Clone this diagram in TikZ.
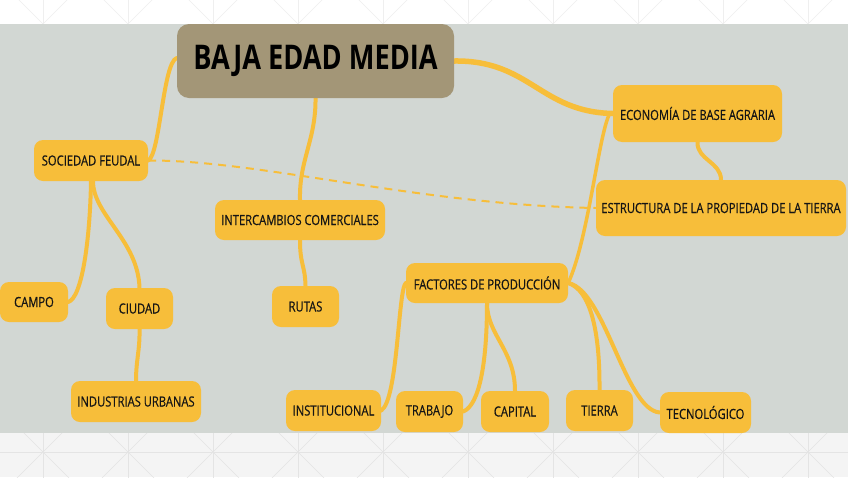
\documentclass[tikz,border=0pt]{standalone}
\usepackage{fontspec}
\setmainfont{Open Sans}[FakeStretch=0.8]
\newfontfamily\nodefont{Open Sans}[FakeStretch=0.8,FakeBold=0.5]
\pgfdeclarelayer{bg}
\pgfsetlayers{bg,main}
\definecolor{panel}{HTML}{D2D7D3}
\definecolor{ylw}{HTML}{F7BE3A}
\definecolor{ttl}{HTML}{A39677}
\definecolor{txt}{HTML}{151515}
\definecolor{strip}{HTML}{F4F4F4}
\definecolor{pat}{HTML}{E4E4E4}
\tikzset{
  box/.style={fill=ylw, rounded corners=9pt, inner sep=0pt, text=txt,
    font=\nodefont\fontsize{14}{14}\selectfont},
  titlebox/.style={fill=ttl, rounded corners=12pt, inner sep=0pt, text=black,
    font=\bfseries\fontsize{34}{34}\selectfont},
  link/.style={draw=ylw, line width=4pt, line cap=round},
  dashlink/.style={draw=ylw, line width=2pt, dash pattern=on 8pt off 6pt}
}
\begin{document}
\begin{tikzpicture}[x=1pt,y=-1pt]
\useasboundingbox (0,0) rectangle (848,477);
\begin{pgfonlayer}{bg}
  % top strip and pattern
  \fill[white] (0,0) rectangle (848,24);
  \begin{scope}
    \clip (0,0) rectangle (848,24);
    \foreach \k in {-1,...,10} {
      \draw[pat!60!white, line width=0.6pt] (43+85*\k,-60) -- (43+85*\k,60);
      \draw[pat!60!white, line width=0.6pt] (43+85*\k-60,24-60) -- (43+85*\k+60,24+60);
      \draw[pat!60!white, line width=0.6pt] (43+85*\k+60,24-60) -- (43+85*\k-60,24+60);
    }
  \end{scope}
  % bottom strip and pattern
  \fill[strip] (0,433) rectangle (848,477);
  \begin{scope}
    \clip (0,433) rectangle (848,477);
    \draw[pat, line width=0.6pt] (0,452) -- (848,452);
    \foreach \k in {-1,...,10} {
      \draw[pat, line width=0.6pt] (43+85*\k,420) -- (43+85*\k,480);
      \draw[pat, line width=0.6pt] (43+85*\k-60,452-60) -- (43+85*\k+60,452+60);
      \draw[pat, line width=0.6pt] (43+85*\k+60,452-60) -- (43+85*\k-60,452+60);
    }
  \end{scope}
  % panel
  \fill[panel] (0,24) rectangle (848,433);
\end{pgfonlayer}

% nodes
\node[titlebox, minimum width=277pt, minimum height=74pt] (title) at (315.5,61) {BAJA EDAD MEDIA};
\node[box, minimum width=114pt, minimum height=41pt] (sf) at (91,160.5) {SOCIEDAD FEUDAL};
\node[box, minimum width=170pt, minimum height=40pt] (ic) at (300,220) {INTERCAMBIOS COMERCIALES};
\node[box, minimum width=169pt, minimum height=57pt] (eco) at (697.5,113.5) {ECONOMÍA DE BASE AGRARIA};
\node[box, minimum width=250pt, minimum height=56pt] (est) at (721,208) {ESTRUCTURA DE LA PROPIEDAD DE LA TIERRA};
\node[box, minimum width=68pt, minimum height=40pt] (campo) at (34,302) {CAMPO};
\node[box, minimum width=67pt, minimum height=41pt] (ciudad) at (139.5,308.5) {CIUDAD};
\node[box, minimum width=130pt, minimum height=41pt] (ind) at (136,401.5) {INDUSTRIAS URBANAS};
\node[box, minimum width=67pt, minimum height=41pt] (rutas) at (305.5,306.5) {RUTAS};
\node[box, minimum width=162pt, minimum height=40pt] (fact) at (487,283) {FACTORES DE PRODUCCIÓN};
\node[box, minimum width=95pt, minimum height=41pt] (inst) at (333.5,410.5) {INSTITUCIONAL};
\node[box, minimum width=67pt, minimum height=41pt] (trab) at (429.5,411.5) {TRABAJO};
\node[box, minimum width=68pt, minimum height=41pt] (cap) at (515,411.5) {CAPITAL};
\node[box, minimum width=67pt, minimum height=41pt] (tierra) at (599.5,410.5) {TIERRA};
\node[box, minimum width=91pt, minimum height=41pt] (tec) at (705.5,412.5) {TECNOLÓGICO};

% connectors
\begin{pgfonlayer}{bg}
  \path[link] ([yshift=3pt]title.west) .. controls (163,62) and (160,155) .. (sf.east);
  \path[link] (title.south) .. controls (316,140) and (299,160) .. (ic.north);
  \path[link, line width=5.5pt] (title.east) .. controls (530,60) and (540,112) .. (eco.west);
  \path[link] (eco.south) .. controls (697,160) and (721,162) .. (est.north);
  \path[link, line width=3.5pt] ([xshift=-4pt,yshift=-2pt]eco.west) .. controls (598,140) and (588,240) .. (fact.east);
  \path[dashlink] (sf.east) .. controls (260,160) and (420,205) .. (est.west);
  \path[link] (sf.south) .. controls (90,240) and (82,298) .. (campo.east);
  \path[link] ([xshift=2pt]sf.south) .. controls (93,215) and (138,240) .. (ciudad.north);
  \path[link] (ciudad.south) .. controls (140,350) and (136,360) .. (ind.north);
  \path[link] (ic.south) .. controls (300,265) and (305,265) .. (rutas.north);
  \path[link] (fact.west) .. controls (398,290) and (398,400) .. (inst.east);
  \path[link] (fact.south) .. controls (487,360) and (480,405) .. (trab.east);
  \path[link] (fact.south) .. controls (487,335) and (515,350) .. (cap.north);
  \path[link] (fact.east) .. controls (590,290) and (600,330) .. (tierra.north);
  \path[link] (fact.east) .. controls (605,290) and (625,410) .. (tec.west);
\end{pgfonlayer}
\end{tikzpicture}
\end{document}
